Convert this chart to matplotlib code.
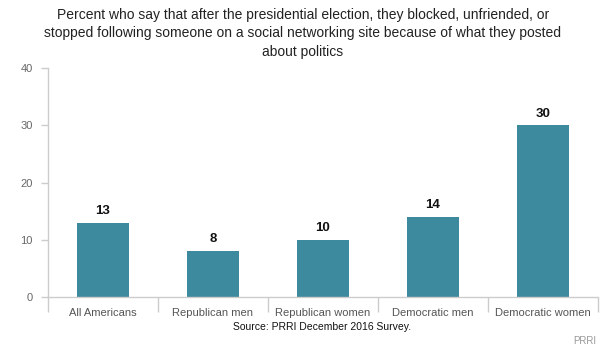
import numpy as np
import matplotlib.pyplot as plt
from matplotlib.ticker import FixedLocator

plt.rcParams['font.family'] = ['Liberation Sans', 'DejaVu Sans']

categories = ['All Americans', 'Republican men', 'Republican women',
              'Democratic men', 'Democratic women']
values = [13, 8, 10, 14, 30]
yticks = [0, 10, 20, 30, 40]

title = ('Percent who say that after the presidential election, they blocked, unfriended, or\n'
         'stopped following someone on a social networking site because of what they posted\n'
         'about politics')

bar_color = '#3d899d'
axis_gray = '#cccccc'

fig = plt.figure(figsize=(6.07, 3.53), dpi=100)
ax = fig.add_axes([0.079, 0.159, 0.906, 0.648])

x = np.arange(len(categories))
bars = ax.bar(x, values, width=0.47, color=bar_color, zorder=2)
for xi, v in zip(x, values):
    ax.text(xi, v + 1.0, str(v), ha='center', va='bottom',
            fontsize=9.5, fontweight='bold', color='#111111')

ax.set_xlim(-0.5, len(categories) - 0.5)
ax.set_ylim(0, 40)
ax.set_yticks(yticks)
ax.set_xticks(x)
ax.set_xticklabels(categories)
ax.xaxis.set_minor_locator(FixedLocator(np.arange(-0.5, len(categories), 1.0)))

ax.tick_params(axis='x', which='major', length=0, pad=8, labelsize=8, labelcolor='#555555')
ax.tick_params(axis='x', which='minor', length=11, color=axis_gray, width=1)
ax.tick_params(axis='y', length=5, color=axis_gray, width=1, pad=6,
               labelsize=8, labelcolor='#666666')

for side in ['top', 'right']:
    ax.spines[side].set_visible(False)
for side in ['left', 'bottom']:
    ax.spines[side].set_color(axis_gray)
    ax.spines[side].set_linewidth(1)

fig.text(0.499, 0.978, title, ha='center', va='top', fontsize=10,
         color='#222222', linespacing=1.4)
fig.text(0.53, 0.073, 'Source: PRRI December 2016 Survey.', ha='center',
         va='center', fontsize=7.5, color='#111111')
fig.text(0.983, 0.034, 'PRRI', ha='right', va='center', fontsize=7,
         color='#999999')

fig.savefig('out.png', dpi=100)
